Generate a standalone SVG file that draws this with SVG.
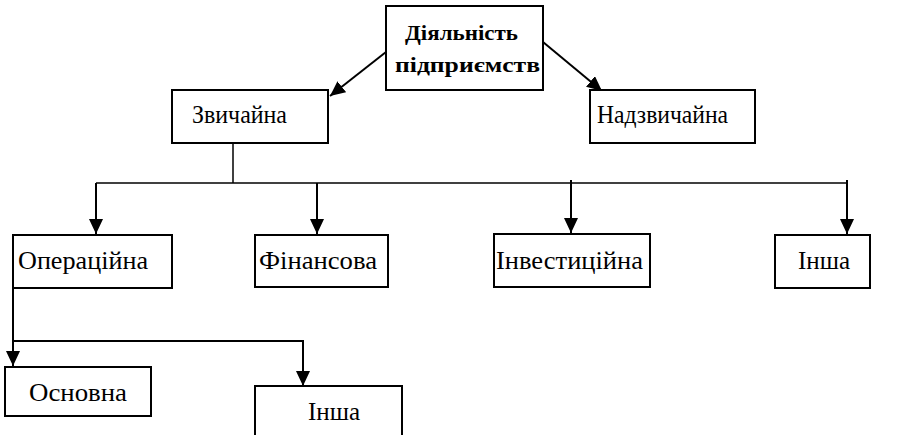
<svg xmlns="http://www.w3.org/2000/svg" width="910" height="435" viewBox="0 0 910 435">
<style>
.box{fill:#fff;stroke:#000;stroke-width:2}
.c{fill:none;stroke:#000;stroke-width:2}
.thin{stroke-width:1.5}
</style>
<defs>
<marker id="ah" markerWidth="15" markerHeight="14" viewBox="0 0 15 14" refX="15" refY="7" orient="auto" markerUnits="userSpaceOnUse">
<path d="M0,0 L15,7 L0,14 Z" fill="#000"/>
</marker>
</defs>
<rect width="910" height="435" fill="#fff"/>
<g id="connectors">
<line class="c" x1="386" y1="52" x2="330" y2="96" marker-end="url(#ah)"/>
<line class="c" x1="543" y1="42" x2="602" y2="91" marker-end="url(#ah)"/>
<line class="c thin" x1="233" y1="143" x2="233" y2="183"/>
<polyline class="c thin" points="96,183 848,183"/>
<line class="c" x1="96" y1="183" x2="96" y2="234" marker-end="url(#ah)"/>
<line class="c" x1="317" y1="183" x2="317" y2="234" marker-end="url(#ah)"/>
<line class="c" x1="571" y1="180" x2="571" y2="233" marker-end="url(#ah)"/>
<line class="c" x1="847" y1="180" x2="847" y2="234" marker-end="url(#ah)"/>
<line class="c" x1="13" y1="288" x2="13" y2="366" marker-end="url(#ah)"/>
<polyline class="c" points="13,341 303,341 303,386" marker-end="url(#ah)"/>
</g>
<g font-family="Liberation Serif, serif" font-size="25" fill="#000">
<g id="n-main">
<rect class="box" x="386" y="6" width="157" height="84"/>
<text x="405" y="40" font-weight="bold" font-size="22" textLength="113" lengthAdjust="spacingAndGlyphs">Діяльність</text>
<text x="395" y="72" font-weight="bold" font-size="22" textLength="145" lengthAdjust="spacingAndGlyphs">підприємств</text>
</g>
<g id="n-zvychaina">
<rect class="box" x="172" y="90" width="156" height="53"/>
<text x="192" y="123" textLength="95" lengthAdjust="spacingAndGlyphs">Звичайна</text>
</g>
<g id="n-nadzvychaina">
<rect class="box" x="590" y="90" width="165" height="53"/>
<text x="597" y="123" textLength="131" lengthAdjust="spacingAndGlyphs">Надзвичайна</text>
</g>
<g id="n-operatsiina">
<rect class="box" x="13" y="235" width="159" height="53"/>
<text x="18" y="269" textLength="130" lengthAdjust="spacingAndGlyphs">Операційна</text>
</g>
<g id="n-finansova">
<rect class="box" x="255" y="235" width="133" height="52"/>
<text x="259" y="269" textLength="118" lengthAdjust="spacingAndGlyphs">Фінансова</text>
</g>
<g id="n-investytsiina">
<rect class="box" x="494" y="234" width="156" height="53"/>
<text x="496" y="269" textLength="147" lengthAdjust="spacingAndGlyphs">Інвестиційна</text>
</g>
<g id="n-insha1">
<rect class="box" x="775" y="235" width="95" height="53"/>
<text x="824" y="269" text-anchor="middle">Інша</text>
</g>
<g id="n-osnovna">
<rect class="box" x="5" y="367" width="146" height="49"/>
<text x="29" y="401" textLength="98" lengthAdjust="spacingAndGlyphs">Основна</text>
</g>
<g id="n-insha2">
<rect class="box" x="255" y="386" width="147" height="60"/>
<text x="308" y="420">Інша</text>
</g>
</g>
</svg>
